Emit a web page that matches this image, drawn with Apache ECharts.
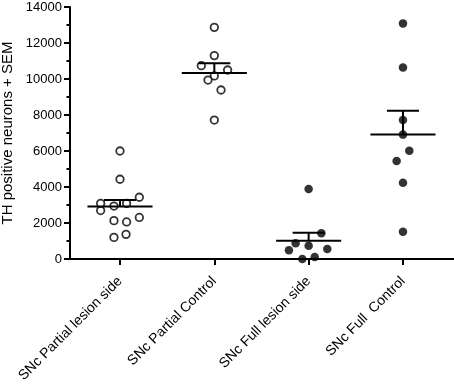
<!DOCTYPE html>
<html>
<head>
<meta charset="utf-8">
<script src="https://cdn.jsdelivr.net/npm/echarts@6/dist/echarts.min.js"></script>
<style>
  html, body { margin: 0; padding: 0; background: #fff; }
  #chart { width: 454px; height: 385px; }
</style>
</head>
<body>
<div id="chart"></div>
<script>
// groups, in axis order
const categories = ['SNc Partial lesion side', 'SNc Partial Control', 'SNc Full lesion side', 'SNc Full  Control'];
const yTicks = [0, 2000, 4000, 6000, 8000, 10000, 12000, 14000];

// individual animals (x = group position incl. scatter jitter)
const partialLesionX = [1.0, 1.0, 1.205, 0.795, 1.07, 0.936, 0.795, 0.936, 1.07, 1.205, 0.936, 1.064];
const partialLesionY = [6000, 4430, 3430, 3090, 3090, 2940, 2690, 2130, 2060, 2310, 1200, 1370];
const partialControlX = [2.0, 2.0, 1.862, 2.141, 2.0, 1.933, 2.071, 2.0];
const partialControlY = [12870, 11300, 10740, 10500, 10170, 9940, 9390, 7720];
const fullLesionX = [3.0, 3.135, 2.862, 3.0, 2.791, 3.198, 2.933, 3.064];
const fullLesionY = [3890, 1430, 870, 740, 480, 560, 0, 110];
const fullControlX = [4.0, 4.0, 4.0, 4.0, 4.067, 3.933, 4.0, 4.0];
const fullControlY = [13090, 10640, 7720, 6910, 6020, 5440, 4240, 1520];

// group mean and SEM
const groupMeans = [2910, 10330, 1020, 6920];
const groupSem = [370, 540, 440, 1320];

const zip = (xs, ys) => xs.map((x, i) => [x, ys[i]]);
const font = 'Liberation Sans, Arial, sans-serif';

const chart = echarts.init(document.getElementById('chart'));

function errorBar(params, api) {
  const x = api.value(0), mean = api.value(1), sem = api.value(2);
  const left = api.coord([x - 0.345, mean]);
  const right = api.coord([x + 0.345, mean]);
  const top = api.coord([x, mean + sem]);
  const capL = api.coord([x - 0.17, mean + sem]);
  const capR = api.coord([x + 0.17, mean + sem]);
  const style = { stroke: '#000', lineWidth: 2 };
  return {
    type: 'group',
    children: [
      { type: 'line', shape: { x1: left[0], y1: left[1], x2: right[0], y2: right[1] }, style },
      { type: 'line', shape: { x1: top[0], y1: left[1], x2: top[0], y2: top[1] }, style },
      { type: 'line', shape: { x1: capL[0], y1: capL[1], x2: capR[0], y2: capR[1] }, style }
    ]
  };
}

const openDot = { color: '#fff', borderColor: '#000', borderWidth: 1.8 };
const filledDot = { color: '#000' };

chart.setOption({
  animation: false,
  grid: {
    left: 70,
    right: 0,
    top: 7,
    bottom: 126,
    outerBoundsMode: 'none'
  },
  xAxis: {
    type: 'value',
    min: 0.47,
    max: 4.541,
    splitLine: { show: false },
    axisLine: { lineStyle: { color: '#000', width: 2 } },
    axisTick: {
      customValues: [1, 2, 3, 4],
      length: 6,
      lineStyle: { color: '#000', width: 2 }
    },
    axisLabel: {
      customValues: [1, 2, 3, 4],
      formatter: (v) => categories[Math.round(v) - 1],
      rotate: 45,
      margin: 20,
      color: '#000',
      fontSize: 14,
      fontFamily: font
    }
  },
  yAxis: {
    type: 'value',
    min: 0,
    max: 14000,
    interval: 2000,
    name: 'TH positive neurons + SEM',
    nameLocation: 'middle',
    nameGap: 51,
    nameTextStyle: { color: '#000', fontSize: 15, fontFamily: font },
    splitLine: { show: false },
    axisLine: { show: true, lineStyle: { color: '#000', width: 2 } },
    axisTick: { show: true, length: 6, lineStyle: { color: '#000', width: 2 } },
    minorTick: { show: true, splitNumber: 2, length: 3.5, lineStyle: { color: '#000', width: 2 } },
    axisLabel: {
      color: '#000',
      fontSize: 13,
      fontFamily: font,
      margin: 8,
      formatter: (v) => yTicks.includes(v) ? String(v) : ''
    }
  },
  series: [
    { type: 'scatter', data: zip(partialLesionX, partialLesionY), symbolSize: 7.5, itemStyle: openDot, z: 2 },
    { type: 'scatter', data: zip(partialControlX, partialControlY), symbolSize: 7.5, itemStyle: openDot, z: 2 },
    { type: 'scatter', data: zip(fullLesionX, fullLesionY), symbolSize: 8.5, itemStyle: filledDot, z: 2 },
    { type: 'scatter', data: zip(fullControlX, fullControlY), symbolSize: 8.5, itemStyle: filledDot, z: 2 },
    {
      type: 'custom',
      renderItem: errorBar,
      data: groupMeans.map((m, i) => [i + 1, m, groupSem[i]]),
      z: 5
    }
  ]
});
</script>
</body>
</html>
